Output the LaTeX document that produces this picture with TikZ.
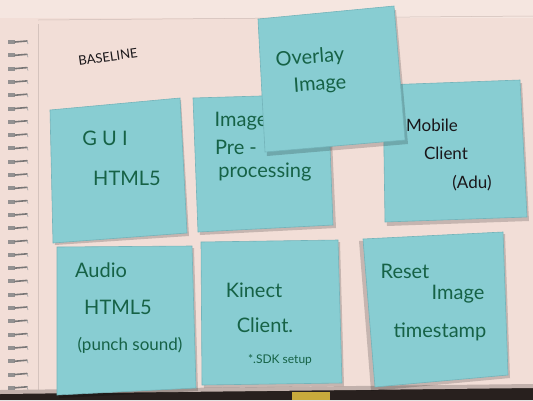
\documentclass[tikz,border=0pt]{standalone}
\usepackage{fontspec}
\setmainfont{Lato}
\begin{document}
\begin{tikzpicture}[x=1pt,y=-1pt,
  note/.style={fill=notefill,draw=noteedge,line width=0.6pt},
  shade/.style={fill=black,opacity=0.18},
  ink/.style={text=inkgreen,font=\fontsize{20}{22}\selectfont,inner sep=0pt},
  inkblack/.style={text=inkblack,font=\fontsize{17}{19}\selectfont,inner sep=0pt},
  ring/.style={draw=ringgray,line width=1.6pt,line cap=round}]
\definecolor{paper}{RGB}{242,222,215}
\definecolor{paperlight}{RGB}{245,230,224}
\definecolor{notefill}{RGB}{136,205,210}
\definecolor{noteedge}{RGB}{116,180,186}
\definecolor{inkgreen}{RGB}{22,98,70}
\definecolor{inkblack}{RGB}{25,22,25}
\definecolor{ringgray}{RGB}{120,118,118}
\definecolor{tabledark}{RGB}{40,32,30}
\definecolor{yellowtab}{RGB}{200,170,60}

% page and surroundings
\useasboundingbox (0,0) rectangle (533,400);
\fill[paper] (0,0) rectangle (533,400);
\fill[paperlight] (0,0) rectangle (533,18);
\draw[paper!85!black,line width=0.5pt] (38,20) -- (533,16);
\draw[paper!88!black,line width=0.4pt] (38,24) -- (38,400);
\fill[tabledark] (0,393) -- (533,387) -- (533,400) -- (0,400) -- cycle;
\fill[paper!80!black] (0,390) -- (533,384) -- (533,388) -- (0,394) -- cycle;
\fill[yellowtab] (292,392) rectangle (330,400);

% spiral binding
\foreach \k in {0,...,26} {
  \pgfmathsetmacro{\yy}{42+13.3*\k}
  \fill[ringgray!80] (8,\yy-2) rectangle (15,\yy+2);
  \draw[ring] (15,\yy) -- (27,\yy-1);
  \draw[ringgray!60,line width=0.8pt] (27,\yy-1) -- (28,\yy+2);
}

% heading
\node[inkblack,rotate=8,font=\fontsize{13}{15}\selectfont] (title) at (108,57) {BASELINE};

% row one
\fill[shade] (51,112) -- (181,100) -- (189,236) -- (55,245) -- cycle;
\draw[note] (50,110) -- (180,98) -- (187,233) -- (53,243) -- cycle;
\node[ink] (gui) at (105,138) {G U I};
\node[ink] (guihtml) at (127,178) {HTML5};

\fill[shade] (195,100) -- (330,96) -- (336,228) -- (200,235) -- cycle;
\draw[note] (193,98) -- (328,94) -- (333,225) -- (198,232) -- cycle;
\node[ink] (img) at (241,121) {Image};
\node[ink] (pre) at (236,147) {Pre -};
\node[ink] (proc) at (265,172) {processing};

\fill[shade] (385,88) -- (522,83) -- (529,221) -- (387,226) -- cycle;
\draw[note] (383,85) -- (520,80) -- (527,217) -- (385,222) -- cycle;
\node[inkblack] (mob) at (432,125) {Mobile};
\node[inkblack] (cli) at (446,153) {Client};
\node[inkblack] (adu) at (472,183) {(Adu)};

% note stuck on top
\fill[shade] (260,23) -- (396,10) -- (408,144) -- (267,156) -- cycle;
\draw[note] (258,19) -- (394,6) -- (405,140) -- (265,152) -- cycle;
\node[ink,rotate=4] (ovl) at (310,58) {Overlay};
\node[ink,rotate=4] (ovi) at (320,85) {Image};

% row two
\fill[shade] (59,249) -- (194,248) -- (198,391) -- (59,398) -- cycle;
\draw[note] (57,247) -- (192,246) -- (196,388) -- (57,395) -- cycle;
\node[ink] (aud) at (101,270) {Audio};
\node[ink] (audhtml) at (118,307) {HTML5};
\node[ink,font=\fontsize{17}{19}\selectfont] (punch) at (130,345) {(punch sound)};

\fill[shade] (203,244) -- (340,242) -- (344,386) -- (204,388) -- cycle;
\draw[note] (201,242) -- (338,240) -- (342,383) -- (202,385) -- cycle;
\node[ink] (kin) at (254,290) {Kinect};
\node[ink] (kcl) at (265,325) {Client.};
\node[ink,font=\fontsize{12}{14}\selectfont] (sdk) at (280,360) {*.SDK setup};

\fill[shade] (359,241) -- (505,234) -- (510,378) -- (371,391) -- cycle;
\draw[note] (363,239) -- (503,232) -- (508,375) -- (375,387) -- cycle;
\node[ink] (rst) at (405,271) {Reset};
\node[ink] (rim) at (458,294) {Image};
\node[ink] (ts) at (440,332) {timestamp};
\end{tikzpicture}
\end{document}
